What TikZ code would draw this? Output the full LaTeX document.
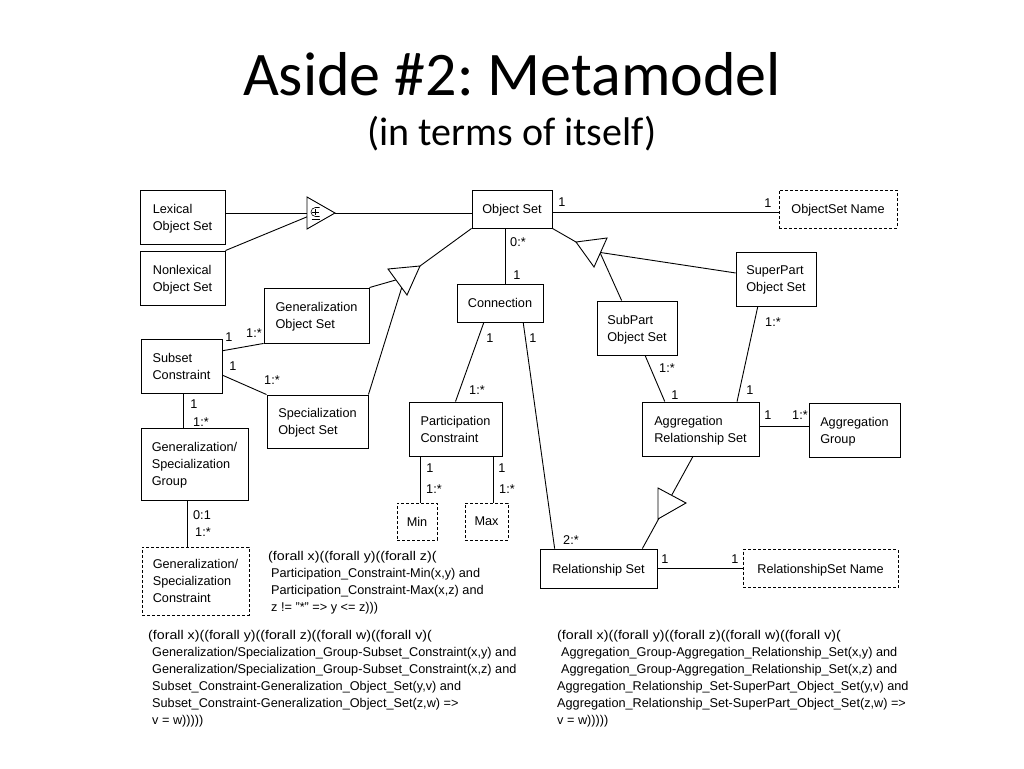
\documentclass[tikz,border=0pt]{standalone}
\usepackage{fontspec}
\usepackage{graphicx}
\setmainfont{Liberation Sans}
\newfontfamily\titlefont{Carlito}
\usetikzlibrary{calc}
\frenchspacing
\newcommand\diafont{\fontsize{12.7}{17}\selectfont}
\newcommand\wideline[1]{\scalebox{1.12}[1]{#1}}
\tikzset{
  box/.style={draw, line width=0.9pt, inner sep=0pt, align=left, font=\diafont, text depth=-1.3pt},
  dbox/.style={box, dash pattern=on 3pt off 2pt},
  link/.style={line width=0.9pt},
  lbl/.style={inner sep=0pt, font=\diafont},
  formula/.style={inner sep=0pt, align=left, anchor=north west, font=\diafont},
  tri/.style={draw, line width=0.9pt, fill=white},
}
\begin{document}
\begin{tikzpicture}[x=1pt,y=-1pt]
\useasboundingbox[fill=white] (0,0) rectangle (1024,768);

% titles
\node[font=\titlefont\fontsize{62}{62}\selectfont, anchor=base, inner sep=0pt] (title) at (512,95) {Aside \#2: Metamodel};
\node[font=\titlefont\fontsize{40}{40}\selectfont, anchor=base, inner sep=0pt] (subtitle) at (512,145) {(in terms of itself)};

% boxes
\node[box, minimum width=85, minimum height=54] (lex) at (182.5,217) {Lexical\\Object Set};
\node[box, minimum width=85, minimum height=54] (nonlex) at (182.5,278) {Nonlexical\\Object Set};
\node[box, minimum width=80, minimum height=38] (objset) at (512,209) {Object Set};
\node[dbox, minimum width=118, minimum height=38] (osname) at (838,209) {ObjectSet Name};
\node[box, minimum width=105, minimum height=55] (genos) at (316.5,315.5) {Generalization\\Object Set};
\node[box, minimum width=81, minimum height=54] (subset) at (181.5,366) {Subset\\Constraint};
\node[box, minimum width=101, minimum height=53] (specos) at (317.5,421.5) {Specialization\\Object Set};
\node[box, minimum width=107, minimum height=72] (gsgroup) at (194.5,464) {Generalization/\\Specialization\\Group};
\node[dbox, minimum width=107, minimum height=68] (gsconstr) at (195.5,581) {Generalization/\\Specialization\\Constraint};
\node[box, minimum width=86, minimum height=38] (conn) at (500,303) {Connection};
\node[box, minimum width=93, minimum height=54] (partc) at (455.5,429) {Participation\\Constraint};
\node[dbox, minimum width=40, minimum height=37] (min) at (417,521.5) {Min};
\node[dbox, minimum width=43, minimum height=37] (max) at (486.5,521.5) {Max};
\node[box, minimum width=117, minimum height=39] (relset) at (598.5,568.5) {Relationship Set};
\node[dbox, minimum width=155, minimum height=38] (rsname) at (820.5,568.5) {RelationshipSet Name};
\node[box, minimum width=80, minimum height=54] (subpart) at (637,328) {SubPart\\Object Set};
\node[box, minimum width=80, minimum height=54] (superpart) at (776,279) {SuperPart\\Object Set};
\node[box, minimum width=117, minimum height=54] (aggrel) at (700.5,429) {Aggregation\\Relationship Set};
\node[box, minimum width=91, minimum height=54] (agggroup) at (854.5,430) {Aggregation\\Group};

% triangle coordinates
\coordinate (t1a) at (335,213); \coordinate (t1b) at (307,197); \coordinate (t1c) at (307,229);
\coordinate (t2a) at (420,266); \coordinate (t2b) at (388,269); \coordinate (t2c) at (407,295);
\coordinate (t3a) at (576,242); \coordinate (t3b) at (607,238); \coordinate (t3c) at (594,267);
\coordinate (t4a) at (686,503); \coordinate (t4b) at (658,488); \coordinate (t4c) at (658,519);

% union triangle connectors
\draw[link] (t1a -| lex.east) -- (t1b |- t1a);
\draw[link] (nonlex.north east) -- ($(t1b)!0.62!(t1c)$);
\draw[link] (t1a) -- (t1a -| objset.west);
% generalization triangle connectors
\draw[link] (objset.south west) -- (t2a);
\draw[link] (genos.north east) -- ($(t2b)!0.42!(t2c)$);
\draw[link] (specos.north east) -- ($(t2b)!0.72!(t2c)$);
% aggregation triangle connectors
\draw[link] (objset.south east) -- (t3a);
\draw[link] ($(superpart.north west)!0.39!(superpart.south west)$) -- ($(t3b)!0.5!(t3c)$);
\draw[link] ($(subpart.north west)!0.31!(subpart.north east)$) -- ($(t3b)!0.52!(t3c)$);
% aggregation relationship set is-a relationship set
\draw[link] ($(aggrel.south west)!0.436!(aggrel.south east)$) -- ($(relset.north west)!0.872!(relset.north east)$);

% other connectors
\draw[link] ($(objset.east)+(0,3)$) coordinate (oe) -- (oe -| osname.west);
\draw[link] ($(objset.south)+(-7,0)$) coordinate (os) -- (os |- conn.north);
\draw[link] ($(conn.south west)!0.314!(conn.south east)$) -- (partc.north);
\draw[link] ($(conn.south west)!0.767!(conn.south east)$) -- ($(relset.north west)!0.128!(relset.north east)$);
\draw[link] ($(min.north)+(3,0)$) coordinate (mn) -- (mn |- partc.south);
\draw[link] ($(max.north)+(6.5,0)$) coordinate (mx) -- (mx |- partc.south);
\draw[link] ($(subset.north east)!0.222!(subset.south east)$) -- (genos.south west);
\draw[link] ($(subset.north east)!0.667!(subset.south east)$) -- (specos.north west);
\draw[link] ($(gsgroup.north west)!0.4!(gsgroup.north east)$) coordinate (sg) -- (sg |- subset.south);
\draw[link] ($(gsconstr.north west)!0.43!(gsconstr.north east)$) coordinate (gc) -- (gc |- gsgroup.south);
\draw[link] ($(subpart.south west)!0.6!(subpart.south east)$) -- ($(aggrel.north west)!0.197!(aggrel.north east)$);
\draw[link] ($(superpart.south west)!0.275!(superpart.south east)$) -- ($(aggrel.north west)!0.81!(aggrel.north east)$);
\draw[link] ($(aggrel.north east)!0.46!(aggrel.south east)$) coordinate (ag) -- (ag -| agggroup.west);
\draw[link] (relset.east) -- (relset.east -| rsname.west);

% triangles
\draw[tri] (t1a) -- (t1b) -- (t1c) -- cycle;
\draw[line width=0.6pt] (319.5,207.5) -- (315.5,207.5) arc[start angle=270, end angle=90, radius=4.5] -- (319.5,216.5);
\draw[line width=0.6pt] (311.5,218.8) -- (320,218.8);
\draw[line width=0.6pt] (312.3,212) -- (318.7,212) (315.5,208.8) -- (315.5,215.2);
\draw[tri] (t2a) -- (t2b) -- (t2c) -- cycle;
\draw[tri] (t3a) -- (t3b) -- (t3c) -- cycle;
\draw[tri] (t4a) -- (t4b) -- (t4c) -- cycle;

% multiplicity labels
\node[lbl] (m1) at (562,202) {1};
\node[lbl] (m2) at (768,203) {1};
\node[lbl] (m3) at (518,242) {0:*};
\node[lbl] (m4) at (517,275) {1};
\node[lbl] (m5) at (490,338) {1};
\node[lbl] (m6) at (477,390) {1:*};
\node[lbl] (m7) at (533,338) {1};
\node[lbl] (m8) at (571,540) {2:*};
\node[lbl] (m9) at (430,468) {1};
\node[lbl] (m10) at (434,489) {1:*};
\node[lbl] (m11) at (502,468) {1};
\node[lbl] (m12) at (507,489) {1:*};
\node[lbl] (m13) at (229,337) {1};
\node[lbl] (m14) at (254,333) {1:*};
\node[lbl] (m15) at (233,366) {1};
\node[lbl] (m16) at (272,380) {1:*};
\node[lbl] (m17) at (194,404) {1};
\node[lbl] (m18) at (201,422) {1:*};
\node[lbl] (m19) at (202,515) {0:1};
\node[lbl] (m20) at (203,532) {1:*};
\node[lbl] (m21) at (667,368) {1:*};
\node[lbl] (m22) at (675,395) {1};
\node[lbl] (m23) at (773,322) {1:*};
\node[lbl] (m24) at (750,390) {1};
\node[lbl] (m25) at (768,415) {1};
\node[lbl] (m26) at (800,415) {1:*};
\node[lbl] (m27) at (665,559) {1};
\node[lbl] (m28) at (735,559) {1};

% formulas
\node[formula] (f1) at (268,551) {\wideline{(forall x)((forall y)((forall z)(}\\
\hspace*{3pt}Participation\_Constraint-Min(x,y) and\\
\hspace*{3pt}Participation\_Constraint-Max(x,z) and\\
\hspace*{3pt}z != "*" => y <= z)))};
\node[formula] (f2) at (148,630) {\wideline{(forall x)((forall y)((forall z)((forall w)((forall v)(}\\
\hspace*{4pt}Generalization/Specialization\_Group-Subset\_Constraint(x,y) and\\
\hspace*{4pt}Generalization/Specialization\_Group-Subset\_Constraint(x,z) and\\
\hspace*{4pt}Subset\_Constraint-Generalization\_Object\_Set(y,v) and\\
\hspace*{4pt}Subset\_Constraint-Generalization\_Object\_Set(z,w) =>\\
\hspace*{4pt}v = w)))))};
\node[formula] (f3) at (557,630) {\wideline{(forall x)((forall y)((forall z)((forall w)((forall v)(}\\
\hspace*{4pt}Aggregation\_Group-Aggregation\_Relationship\_Set(x,y) and\\
\hspace*{4pt}Aggregation\_Group-Aggregation\_Relationship\_Set(x,z) and\\
Aggregation\_Relationship\_Set-SuperPart\_Object\_Set(y,v) and\\
Aggregation\_Relationship\_Set-SuperPart\_Object\_Set(z,w) =>\\
v = w)))))};
\end{tikzpicture}
\end{document}
